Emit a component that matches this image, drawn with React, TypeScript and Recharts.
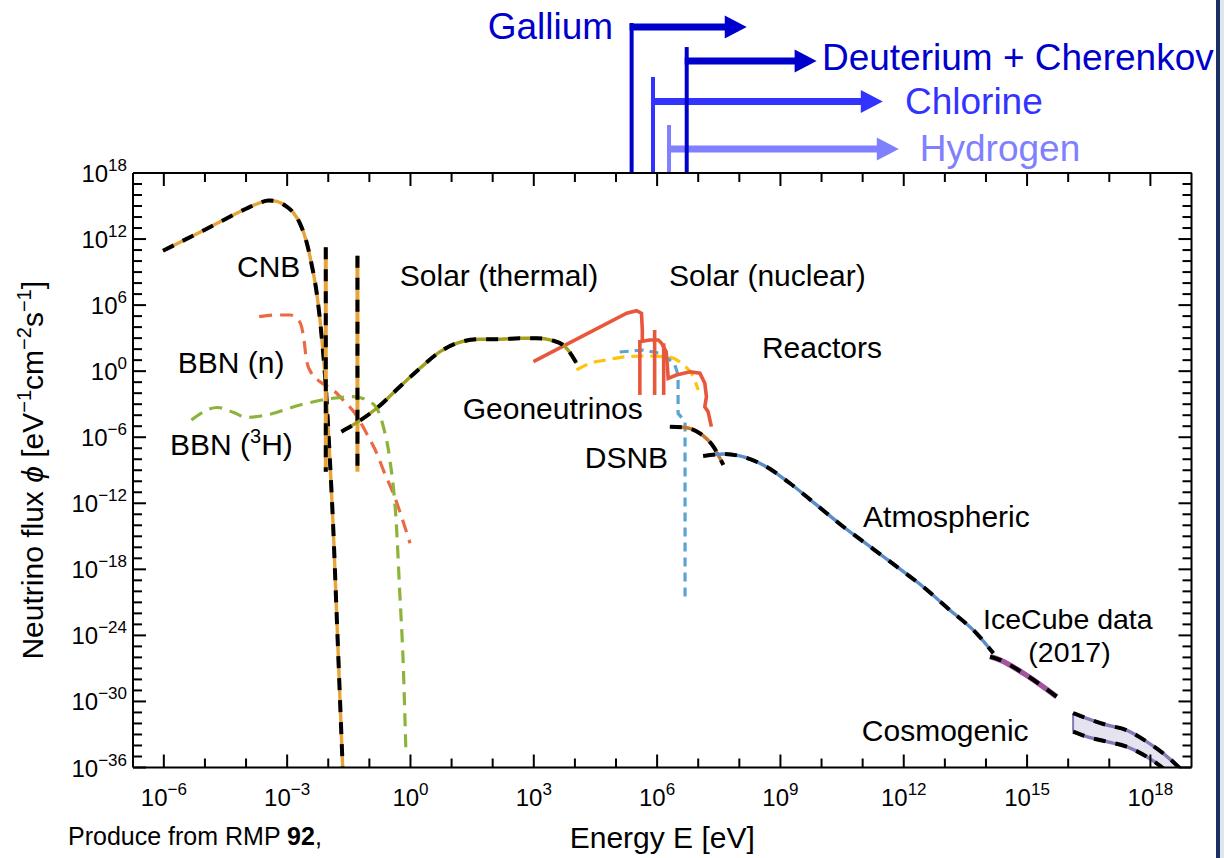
import { ComposedChart, Line, Area, XAxis, YAxis, ReferenceLine, ReferenceDot } from 'recharts';

// every pair is [log10 E (eV), log10 flux (eV^-1 cm^-2 s^-1)]
type Pt = [number, number];

const cnb: Pt[] = [
  [-6.02, 10.94], [-5.0, 12.85], [-4.0, 14.75], [-3.7, 15.25], [-3.45, 15.5], [-3.25, 15.42],
  [-3.05, 15.05], [-2.85, 14.4], [-2.69, 13.43], [-2.53, 11.76], [-2.41, 9.8], [-2.28, 7.07],
  [-2.16, 3.13], [-2.06, -1.41], [-1.96, -8.07], [-1.88, -14.13], [-1.8, -21.69], [-1.65, -35.92],
];
const cnbLineLight: Pt[] = [[-2.06, 11.25], [-2.06, -9.13]];
const cnbLineHeavy: Pt[] = [[-1.29, 10.49], [-1.29, -9.13]];

const bbnNeutron: Pt[] = [
  [-3.68, 4.95], [-3.3, 5.1], [-2.93, 5.1], [-2.73, 4.65], [-2.65, 4.04], [-2.59, 2.83],
  [-2.53, 1.02], [-2.41, -0.19], [-2.2, -0.96], [-1.88, -1.71], [-1.64, -2.62], [-1.35, -3.83],
  [-1.07, -5.64], [-0.82, -7.46], [-0.66, -8.98], [-0.42, -11.09], [-0.01, -15.63],
];
const bbnTritium: Pt[] = [
  [-5.33, -4.43], [-4.7, -3.3], [-4.3, -3.75], [-3.99, -4.2], [-3.5, -3.98], [-2.69, -3.07], [-1.88, -2.46],
  [-1.39, -2.32], [-1.07, -2.62], [-0.82, -3.37], [-0.66, -5.04], [-0.5, -8.07], [-0.34, -14.13],
  [-0.26, -20.17], [-0.18, -26.23], [-0.11, -34.71],
];

const solarThermal: Pt[] = [
  [-1.68, -5.5], [-1.27, -4.59], [-0.82, -3.37], [-0.26, -1.41], [0.23, 0.26], [0.72, 1.77],
  [1.12, 2.53], [1.69, 2.9], [2.18, 2.9], [2.66, 2.99], [3.07, 2.99], [3.47, 2.77], [3.8, 2.08],
  [4.04, 0.72],
];
const solarPP: Pt[] = [[2.99, 0.86], [5.26, 5.26], [5.5, 5.49], [5.62, 5.26], [5.64, 3.74], [5.64, 2.83]];
const solarBe7Low: Pt[] = [[5.58, 2.83], [5.58, -2.16]];
const solarBe7High: Pt[] = [[5.94, 3.74], [5.94, -2.16]];
const solarPep: Pt[] = [[6.16, 2.53], [6.16, -2.16]];
const solarB8: Pt[] = [
  [5.58, 2.68], [5.82, 2.83], [6.03, 2.83], [6.11, 2.53], [6.22, 1.77], [6.25, 0.41], [6.27, -0.65],
  [6.47, -0.35], [6.8, -0.05], [7.04, -0.19], [7.16, -1.1], [7.2, -2.32], [7.16, -3.23],
  [7.24, -3.68], [7.32, -5.04],
];

const reactors: Pt[] = [
  [4.04, 0.11], [4.37, 0.72], [4.77, 1.02], [5.26, 1.32], [5.74, 1.38], [6.31, 1.26], [6.64, 0.56],
  [6.88, -0.5], [7.0, -1.71],
];
const geoneutrinos: Pt[] = [
  [5.09, 1.74], [5.66, 1.92], [6.07, 1.62], [6.3, 1.05], [6.43, 0.56], [6.49, -0.1], [6.51, -0.8],
  [6.51, -3.83], [6.68, -4.59], [6.68, -20.48],
];
const dsnb: Pt[] = [[6.31, -5.04], [6.64, -5.1], [7.04, -5.64], [7.37, -6.86], [7.61, -8.52]];

const atmospheric: Pt[] = [
  [7.12, -7.7], [7.61, -7.52], [8.01, -7.7], [8.58, -8.52], [9.23, -10.18], [9.88, -12.15],
  [10.53, -14.13], [11.18, -15.94], [11.83, -17.76], [12.47, -19.58], [13.12, -21.69],
  [13.77, -23.81], [14.18, -25.62],
];
const iceCube: Pt[] = [[14.1, -25.93], [14.34, -26.23], [14.91, -27.44], [15.72, -29.57]];

const cosmoUpper: Pt[] = [
  [16.12, -31.07], [16.45, -31.53], [16.94, -32.14], [17.42, -32.6], [17.91, -33.65], [18.31, -34.71],
  [18.72, -36.07],
];
const cosmoLower: Pt[] = [
  [16.12, -32.75], [16.45, -33.2], [16.94, -33.65], [17.42, -34.11], [17.91, -35.02], [18.31, -36.07],
  [18.72, -37.5],
];
const cosmoEdge: Pt[] = [[16.12, -31.07], [16.12, -32.75]];

const energyTicks = [-6, -5, -4, -3, -2, -1, 0, 1, 2, 3, 4, 5, 6, 7, 8, 9, 10, 11, 12, 13, 14, 15, 16, 17, 18];
const fluxTicks = [
  18, 17, 16, 15, 14, 13, 12, 11, 10, 9, 8, 7, 6, 5, 4, 3, 2, 1, 0, -1, -2, -3, -4, -5, -6, -7, -8, -9,
  -10, -11, -12, -13, -14, -15, -16, -17, -18, -19, -20, -21, -22, -23, -24, -25, -26, -27, -28, -29,
  -30, -31, -32, -33, -34, -35, -36,
];

// detector thresholds (log10 E) and how far each arrow reaches
const detectors = [
  { name: 'Hydrogen', threshold: 6.29, tip: 11.88, top: 22.36, bar: 20.18, labelX: 12.39, labelY: 19.09, color: '#8080ff' },
  { name: 'Chlorine', threshold: 5.9, tip: 11.49, top: 26.72, bar: 24.49, labelX: 12.03, labelY: 23.36, color: '#3333ff' },
  { name: 'Gallium', threshold: 5.38, tip: 8.18, top: 31.62, bar: 31.26, labelX: 1.88, labelY: 30.17, color: '#0000cc' },
  { name: 'Deuterium + Cherenkov', threshold: 6.72, tip: 9.88, top: 29.44, bar: 28.17, labelX: 10.01, labelY: 27.36, color: '#0000cc' },
];

const labels = [
  { text: 'CNB', x: -4.22, y: 8.55, size: 30 },
  { text: 'Solar (thermal)', x: -0.26, y: 7.74, size: 30 },
  { text: 'Solar (nuclear)', x: 6.29, y: 7.74, size: 30 },
  { text: 'Reactors', x: 8.55, y: 1.2, size: 30 },
  { text: 'BBN (n)', x: -5.66, y: -0.17, size: 30 },
  { text: 'Geoneutrinos', x: 1.27, y: -4.34, size: 30 },
  { text: 'DSNB', x: 4.24, y: -8.79, size: 30 },
  { text: 'Atmospheric', x: 11.01, y: -14.15, size: 30 },
  { text: 'IceCube data', x: 13.93, y: -23.45, size: 28.5 },
  { text: '(2017)', x: 15.03, y: -26.4, size: 28.5 },
  { text: 'Cosmogenic', x: 10.98, y: -33.59, size: 30 },
];

const FONT = '"Liberation Sans", Arial, Helvetica, sans-serif';
const pts = (a: Pt[]) => a.map(([x, y]) => ({ x, y }));
const cosmoBand = cosmoUpper.map(([x, hi], i) => ({ x, range: [cosmoLower[i][1], hi] }));

const sup = (v: number) => (v < 0 ? `\u2212${-v}` : `${v}`);

function Pow({ x, y, exp, anchor }: any) {
  return (
    <text x={x} y={y} textAnchor={anchor} fontSize={24} fill="#000" fontFamily={FONT}>
      10<tspan dy={-11} fontSize={17}>{sup(exp)}</tspan>
    </text>
  );
}

const BottomTick = ({ x, y, payload }: any) => {
  const major = payload.value % 3 === 0;
  return (
    <g>
      <line x1={x} y1={y} x2={x} y2={y - (major ? 13 : 9)} stroke="#000" strokeWidth={2} />
      {major && <Pow x={x} y={y + 38} exp={payload.value} anchor="middle" />}
    </g>
  );
};
const TopTick = ({ x, y, payload }: any) => (
  <line x1={x} y1={y} x2={x} y2={y + (payload.value % 3 === 0 ? 13 : 9)} stroke="#000" strokeWidth={2} />
);
const LeftTick = ({ x, y, payload }: any) => {
  const major = payload.value % 6 === 0;
  return (
    <g>
      <line x1={x} y1={y} x2={x + (major ? 13 : 9)} y2={y} stroke="#000" strokeWidth={2} />
      {major && <Pow x={x - 6} y={y + 9} exp={payload.value} anchor="end" />}
    </g>
  );
};
const RightTick = ({ x, y, payload }: any) => (
  <line x1={x} y1={y} x2={x - (payload.value % 6 === 0 ? 13 : 9)} y2={y} stroke="#000" strokeWidth={2} />
);

const xTitle = ({ viewBox }: any) => (
  <text x={viewBox.x + viewBox.width / 2} y={viewBox.y + 80.5} textAnchor="middle" fontSize={30} fontFamily={FONT} fill="#000">
    Energy E [eV]
  </text>
);
const yTitle = ({ viewBox }: any) => {
  const cx = viewBox.x - 30;
  const cy = viewBox.y + viewBox.height / 2;
  return (
    <text x={cx} y={cy} transform={`rotate(-90 ${cx} ${cy})`} textAnchor="middle" fontSize={30} fontFamily={FONT} fill="#000">
      Neutrino flux <tspan fontStyle="italic">ϕ</tspan> [eV
      <tspan dy={-12} fontSize={20}>−1</tspan>
      <tspan dy={12}>cm</tspan>
      <tspan dy={-12} fontSize={20}>−2</tspan>
      <tspan dy={12}>s</tspan>
      <tspan dy={-12} fontSize={20}>−1</tspan>
      <tspan dy={12}>]</tspan>
    </text>
  );
};

const textShape = (text: any, size: number, color: string) => (p: any) => (
  <text x={p.cx} y={p.cy} fontSize={size} fontFamily={FONT} fill={color}>{text}</text>
);

const arrowShape = (color: string) => (p: any) => {
  const { x1, y1, x2, y2 } = p;
  const head = 22;
  return (
    <g>
      <line x1={x1 - 2} y1={y1} x2={x2 - head + 1} y2={y2} stroke={color} strokeWidth={7} />
      <polygon points={`${x2 - head},${y2 - 11.5} ${x2},${y2} ${x2 - head},${y2 + 11.5}`} fill={color} />
    </g>
  );
};

// colored curve with a black dashed overlay
const striped = [
  { key: 'cnb', data: cnb, color: '#e8a33a', type: 'monotone' },
  { key: 'cnbA', data: cnbLineLight, color: '#e8a33a', type: 'linear', width: 4 },
  { key: 'cnbB', data: cnbLineHeavy, color: '#e8a33a', type: 'linear', width: 4 },
  { key: 'thermal', data: solarThermal, color: '#a3a020', type: 'monotone' },
  { key: 'dsnb', data: dsnb, color: '#c8742a', type: 'monotone' },
  { key: 'atm', data: atmospheric, color: '#5b8cc8', type: 'monotone' },
  { key: 'ice', data: iceCube, color: '#a0559c', type: 'monotone', width: 5.5 },
  { key: 'cosHi', data: cosmoUpper, color: '#8878b8', type: 'monotone' },
  { key: 'cosLo', data: cosmoLower, color: '#8878b8', type: 'monotone' },
];

const dashedColored = [
  { key: 'bbnN', data: bbnNeutron, color: '#eb6a45', dash: '13 8', type: 'monotone' },
  { key: 'bbnH', data: bbnTritium, color: '#8cb43c', dash: '13 8', type: 'monotone' },
  { key: 'reac', data: reactors, color: '#ffc20e', dash: '12 7', type: 'monotone' },
  { key: 'geo', data: geoneutrinos, color: '#5ba3d0', dash: '9 6', type: 'linear' },
];

const solarLines = [
  { key: 'pp', data: solarPP },
  { key: 'be7a', data: solarBe7Low },
  { key: 'be7b', data: solarBe7High },
  { key: 'pep', data: solarPep },
  { key: 'b8', data: solarB8 },
];

export default function App() {
  return (
    <div style={{ position: 'absolute', left: 0, top: 0, width: 1224, height: 858, background: '#fff', fontFamily: FONT }}>
      <ComposedChart width={1224} height={858} margin={{ top: 172, right: 31.5, bottom: 50.5, left: 73 }}>
        <XAxis
          xAxisId={0} dataKey="x" type="number" domain={[-6.75, 19]} allowDataOverflow ticks={energyTicks}
          interval={0} tickSize={0} tickMargin={0} tickLine={false} tick={BottomTick} height={40}
          axisLine={{ stroke: '#000', strokeWidth: 2 }} label={xTitle}
        />
        <XAxis
          xAxisId="top" orientation="top" dataKey="x" type="number" domain={[-6.75, 19]} allowDataOverflow
          ticks={energyTicks} interval={0} tickSize={0} tickMargin={0} tickLine={false} tick={TopTick} height={1}
          axisLine={{ stroke: '#000', strokeWidth: 2 }}
        />
        <YAxis
          yAxisId={0} type="number" domain={[-36, 18]} allowDataOverflow ticks={fluxTicks} interval={0}
          tickSize={0} tickMargin={0} tickLine={false} tick={LeftTick} width={60}
          axisLine={{ stroke: '#000', strokeWidth: 2 }} label={yTitle}
        />
        <YAxis
          yAxisId="right" orientation="right" type="number" domain={[-36, 18]} allowDataOverflow ticks={fluxTicks}
          interval={0} tickSize={0} tickMargin={0} tickLine={false} tick={RightTick} width={1}
          axisLine={{ stroke: '#000', strokeWidth: 2 }}
        />

        <Area data={cosmoBand} dataKey="range" type="monotone" fill="#e6e3f0" fillOpacity={1} stroke="none" isAnimationActive={false} />
        <Line data={pts(cosmoEdge)} dataKey="y" type="linear" stroke="#8878b8" strokeWidth={2} dot={false} activeDot={false} isAnimationActive={false} />

        {dashedColored.map((s) => (
          <Line key={s.key} data={pts(s.data)} dataKey="y" type={s.type as any} stroke={s.color} strokeWidth={3.2}
            strokeDasharray={s.dash} dot={false} activeDot={false} isAnimationActive={false} />
        ))}

        {solarLines.map((s) => (
          <Line key={s.key} data={pts(s.data)} dataKey="y" type="linear" stroke="#e8573c" strokeWidth={3.6}
            dot={false} activeDot={false} isAnimationActive={false} />
        ))}

        {striped.map((s) => [
          <Line key={s.key} data={pts(s.data)} dataKey="y" type={s.type as any} stroke={s.color} strokeWidth={s.width ?? 3.4}
            dot={false} activeDot={false} isAnimationActive={false} />,
          <Line key={s.key + '-dash'} data={pts(s.data)} dataKey="y" type={s.type as any} stroke="#000" strokeWidth={4}
            strokeDasharray="12 10" dot={false} activeDot={false} isAnimationActive={false} />,
        ])}

        {detectors.map((d) => [
          <ReferenceLine key={d.name + '-bar'} segment={[{ x: d.threshold, y: d.bar }, { x: d.tip, y: d.bar }]}
            ifOverflow="visible" stroke={d.color} shape={arrowShape(d.color)} />,
          <ReferenceLine key={d.name + '-up'} segment={[{ x: d.threshold, y: 18 }, { x: d.threshold, y: d.top }]}
            ifOverflow="visible" stroke={d.color} strokeWidth={4} />,
          <ReferenceDot key={d.name + '-txt'} x={d.labelX} y={d.labelY} r={0} ifOverflow="visible"
            shape={textShape(d.name, 37, d.color)} />,
        ])}

        {labels.map((l) => (
          <ReferenceDot key={l.text} x={l.x} y={l.y} r={0} ifOverflow="visible" shape={textShape(l.text, l.size, '#000')} />
        ))}
        <ReferenceDot x={-5.85} y={-7.61} r={0} ifOverflow="visible"
          shape={textShape(<>BBN (<tspan dy={-12} fontSize={20}>3</tspan><tspan dy={12}>H)</tspan></>, 30, '#000')} />
      </ComposedChart>

      <div style={{ position: 'absolute', left: 68, top: 822, fontSize: 25, color: '#000', whiteSpace: 'nowrap' }}>
        Produce from RMP <b>92</b>,
      </div>
      <div style={{ position: 'absolute', left: 1216, top: 0, width: 4, height: 858, background: '#1c2f63' }} />
      <div style={{ position: 'absolute', left: 1220, top: 0, width: 4, height: 858, background: '#dfe6ef' }} />
    </div>
  );
}
